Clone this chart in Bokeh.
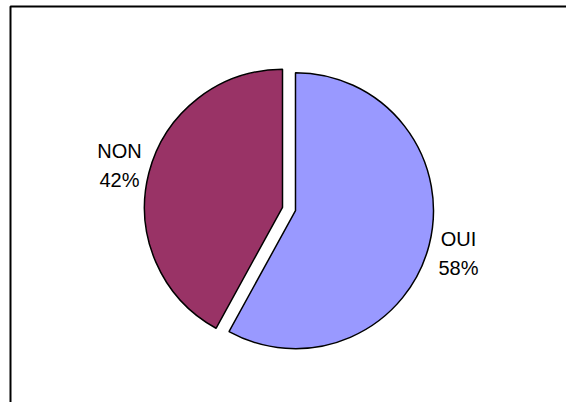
import numpy as np
from bokeh.plotting import figure
from bokeh.models import ColumnDataSource, Range1d, BoxAnnotation
from bokeh.core.properties import value
from bokeh.embed import file_html
from bokeh.resources import INLINE

# data
categories = ["OUI", "NON"]
values = [58, 42]
colors = ["#9999FF", "#993366"]

W, H = 566, 402
p = figure(width=W, height=H, output_backend="svg", toolbar_location=None,
           x_range=Range1d(0, W), y_range=Range1d(0, H), min_border=0,
           outline_line_color=None)
p.axis.visible = False
p.grid.visible = False
p.background_fill_color = "white"
p.border_fill_color = "white"

# frame (top and left edges visible, rest cut by window)
p.add_layout(BoxAnnotation(left=10, right=W + 20, bottom=-20, top=H - 6,
                           fill_alpha=0, line_color="black", line_alpha=1.0,
                           line_width=2, editable=False))

cx, cy = 288.5, 193.5
R = 138
explode = 6.7
lab_r = 175

vals = np.array(values, dtype=float)
frac = vals / vals.sum()
ends = np.pi / 2 - 2 * np.pi * np.cumsum(frac)
starts = np.concatenate([[np.pi / 2], ends[:-1]])
mids = (starts + ends) / 2

src = ColumnDataSource(dict(
    x=cx + explode * np.cos(mids),
    y=cy + explode * np.sin(mids),
    start=starts, end=ends, color=colors,
    lx=cx + lab_r * np.cos(mids),
    ly=cy + lab_r * np.sin(mids),
    name=categories,
    pct=[f"{round(f * 100)}%" for f in frac],
))

p.wedge(x="x", y="y", radius=R, radius_units="screen", start_angle="start", end_angle="end",
        direction="clock", fill_color="color", line_color="black", line_width=1.5, source=src)

p.text(x="lx", y="ly", text="name", source=src, text_align="center", text_baseline="middle",
       y_offset=-14, text_font=value("Liberation Sans"), text_font_size="20px", text_color="black")
p.text(x="lx", y="ly", text="pct", source=src, text_align="center", text_baseline="middle",
       y_offset=15, text_font=value("Liberation Sans"), text_font_size="20px", text_color="black")

open("out.html", "w").write(file_html(p, INLINE))
